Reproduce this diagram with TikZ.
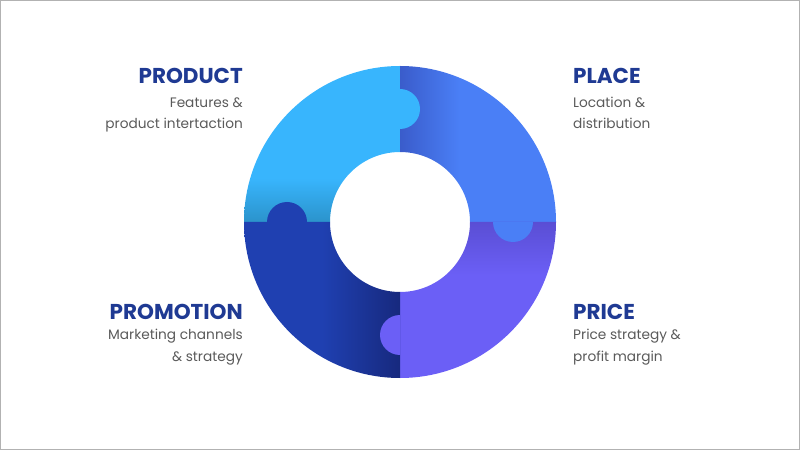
\documentclass[tikz,border=0pt]{standalone}
\usepackage{fontspec}
\setmainfont{Poppins}
\newfontfamily\titlefont{Poppins}
\definecolor{tllight}{HTML}{38B5FD}
\definecolor{tldark}{HTML}{2B93CB}
\definecolor{trlight}{HTML}{4A7FF6}
\definecolor{trdark}{HTML}{3A5CCB}
\definecolor{brlight}{HTML}{6B5FF6}
\definecolor{brdark}{HTML}{5A4ED4}
\definecolor{bllight}{HTML}{1F40B1}
\definecolor{bldark}{HTML}{17297E}
\definecolor{titlecol}{HTML}{1F3A93}
\definecolor{bodycol}{HTML}{5A5A5A}
\pgfdeclareverticalshading{tlshade}{100bp}{color(0bp)=(tldark); color(25bp)=(tldark); color(39bp)=(tllight); color(100bp)=(tllight)}
\pgfdeclarehorizontalshading{trshade}{100bp}{color(0bp)=(trdark); color(25bp)=(trdark); color(44bp)=(trlight); color(100bp)=(trlight)}
\pgfdeclareverticalshading{brshade}{100bp}{color(0bp)=(brlight); color(58bp)=(brlight); color(75bp)=(brdark); color(100bp)=(brdark)}
\pgfdeclarehorizontalshading{blshade}{100bp}{color(0bp)=(bllight); color(50bp)=(bllight); color(75bp)=(bldark); color(100bp)=(bldark)}
\begin{document}
\begin{tikzpicture}[x=1pt,y=1pt,
  title/.style={font=\titlefont\bfseries\fontsize{21.5}{24}\selectfont, text=titlecol, inner sep=0pt},
  body/.style={font=\fontsize{13.7}{21}\selectfont, text=bodycol, inner sep=0pt}]
\useasboundingbox (0,0) rectangle (800,450);
\draw[gray!60, line width=0.8pt] (0.4,0.4) rectangle (799.6,449.6);
% ring quadrants (centre 400,228; outer 156; inner 70)
\shade[shading=tlshade] (400,384) arc[start angle=90,end angle=180,radius=156] -- (330,228) arc[start angle=180,end angle=90,radius=70] -- cycle;
\shade[shading=trshade] (556,228) arc[start angle=0,end angle=90,radius=156] -- (400,298) arc[start angle=90,end angle=0,radius=70] -- cycle;
\shade[shading=brshade] (400,72) arc[start angle=270,end angle=360,radius=156] -- (470,228) arc[start angle=0,end angle=-90,radius=70] -- cycle;
\shade[shading=blshade] (244,228) arc[start angle=180,end angle=270,radius=156] -- (400,158) arc[start angle=270,end angle=180,radius=70] -- cycle;
% puzzle knobs
\fill[tllight] (400,321) arc[start angle=-90,end angle=90,radius=20] -- cycle;
\fill[bllight] (267,228) arc[start angle=180,end angle=0,radius=20] -- cycle;
\fill[trlight] (493,228) arc[start angle=180,end angle=360,radius=20] -- cycle;
\fill[brlight] (400,135) arc[start angle=90,end angle=270,radius=20] -- cycle;
% labels
\node[title, anchor=base east] (prodT) at (243,366) {PRODUCT};
\node[body, anchor=base east, align=right] (prodB) at (243,321) {Features \&\\product intertaction};
\node[title, anchor=base west] (placeT) at (573,366) {PLACE};
\node[body, anchor=base west, align=left] (placeB) at (573,321) {Location \&\\distribution};
\node[title, anchor=base east] (promT) at (243,131) {PROMOTION};
\node[body, anchor=base east, align=right] (promB) at (243,89) {Marketing channels\\\& strategy};
\node[title, anchor=base west] (priceT) at (573,131) {PRICE};
\node[body, anchor=base west, align=left] (priceB) at (573,89) {Price strategy \&\\profit margin};
\end{tikzpicture}
\end{document}
